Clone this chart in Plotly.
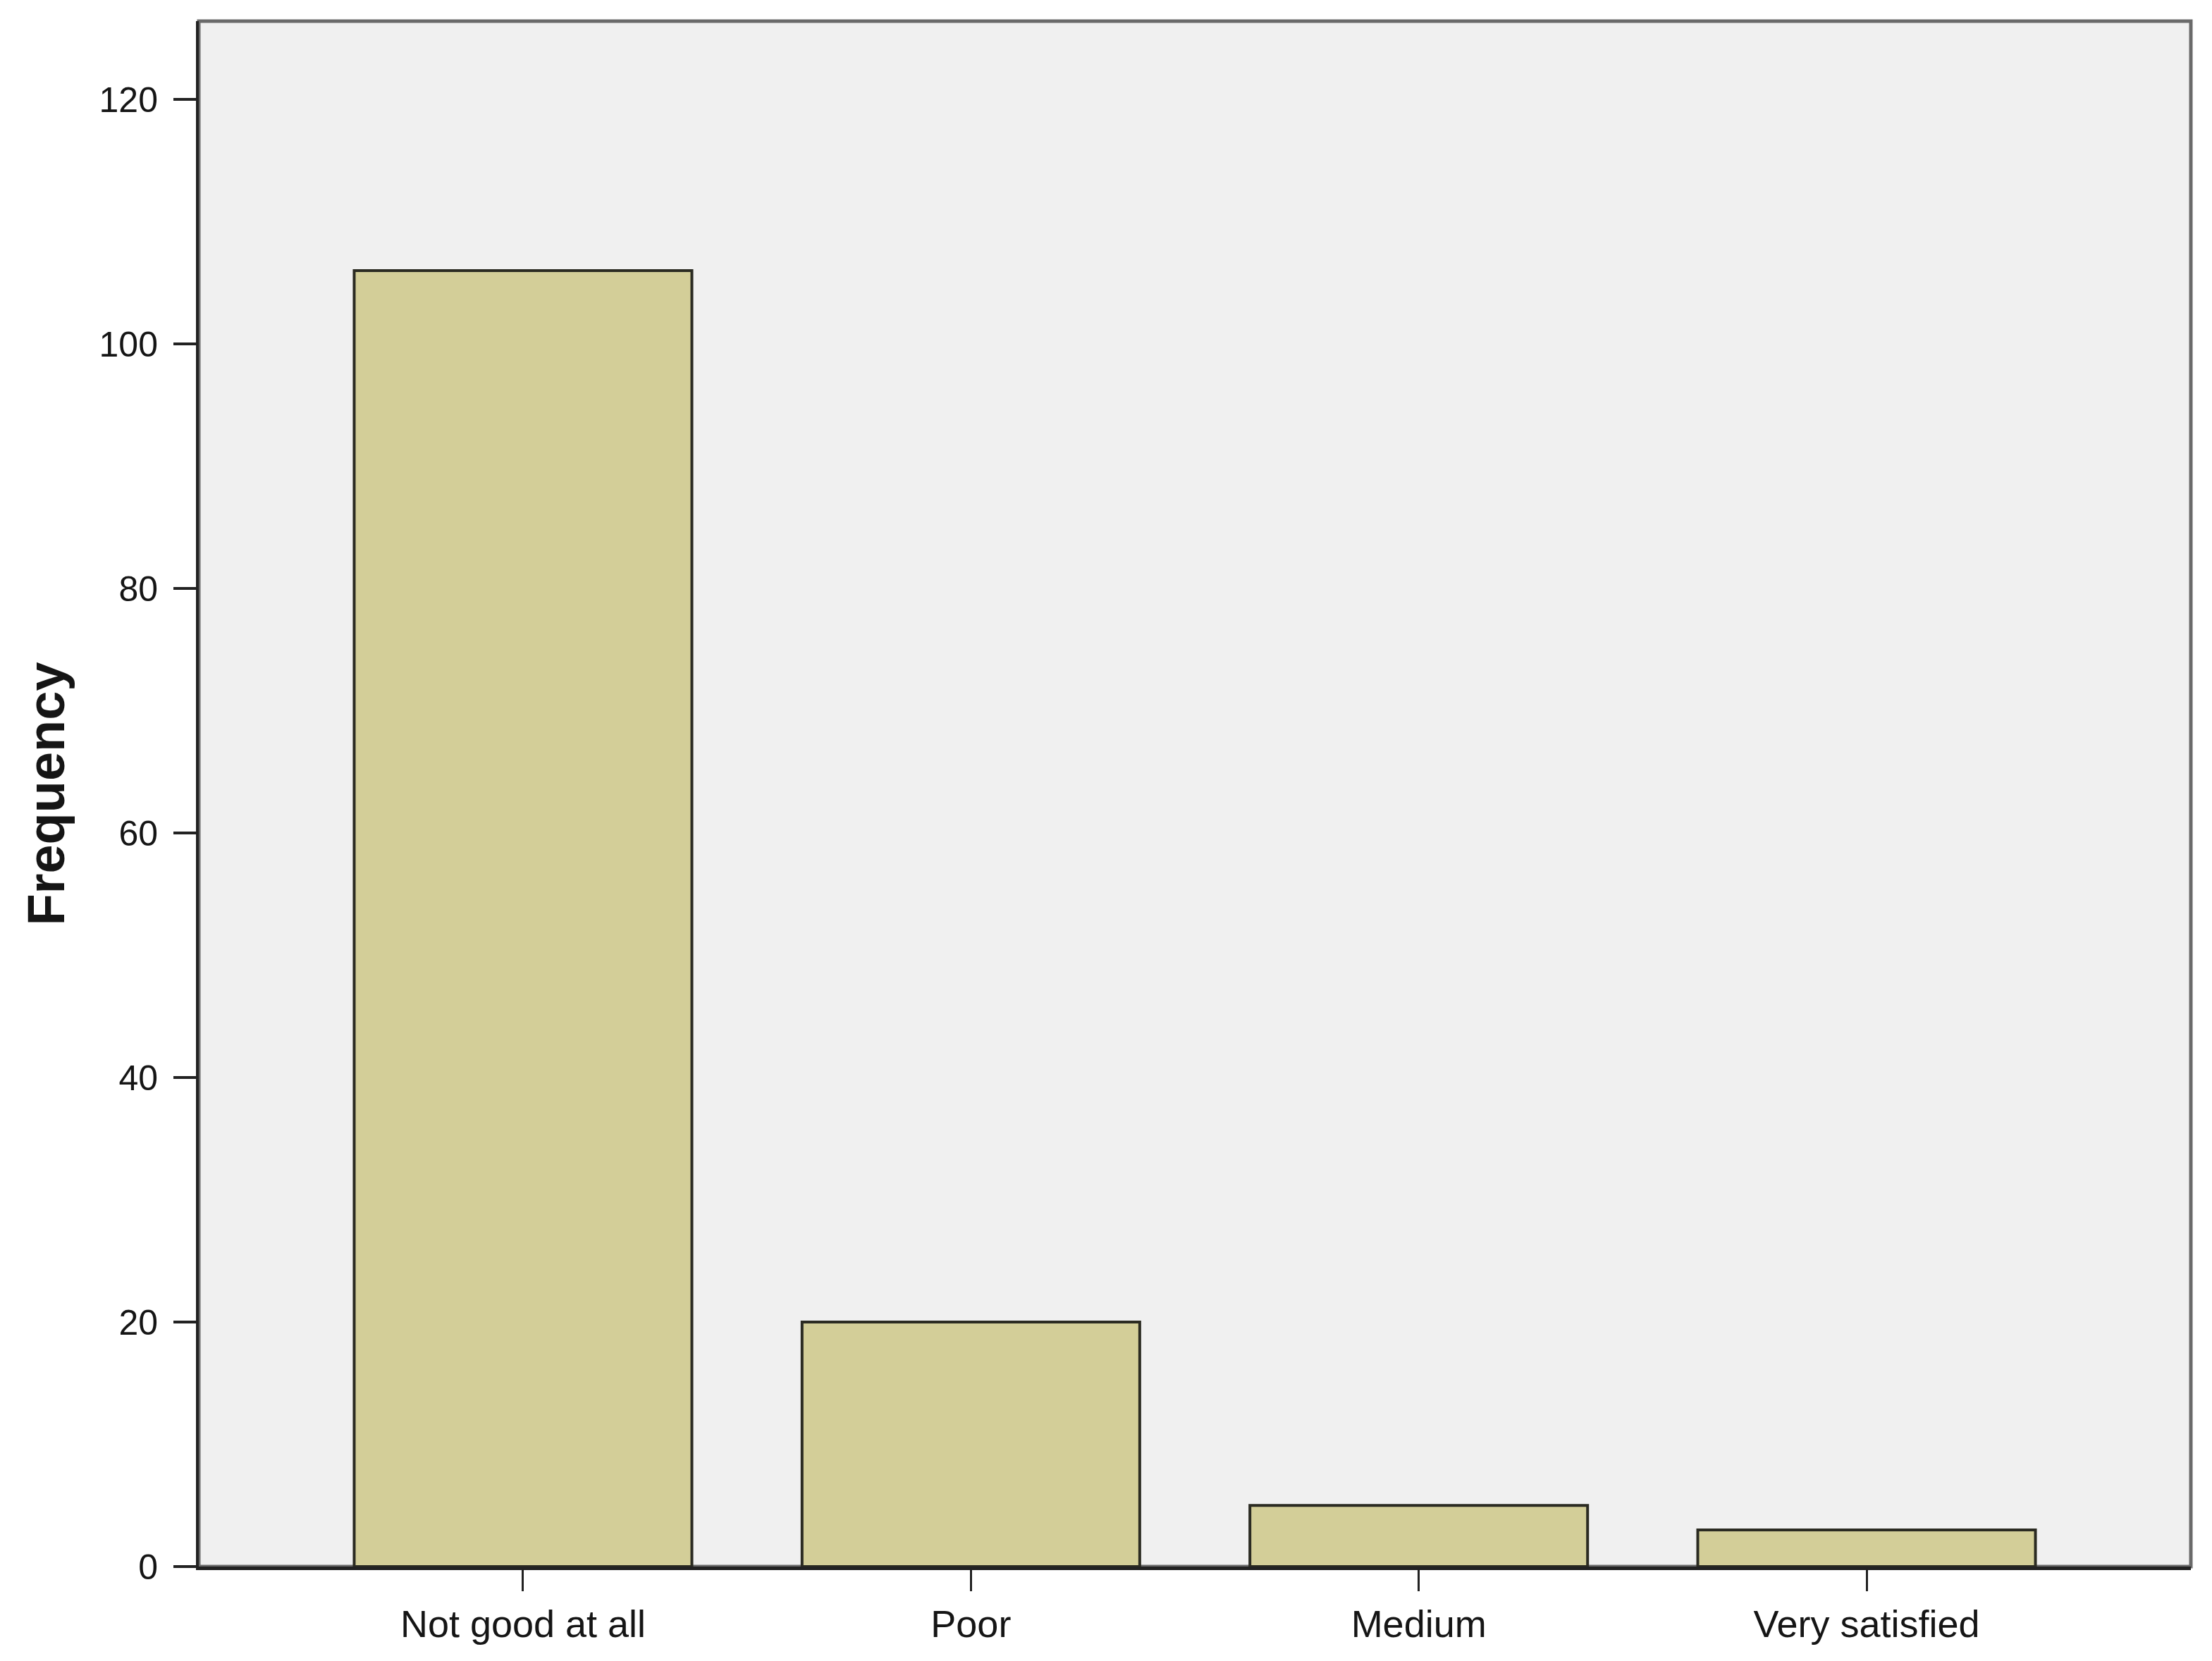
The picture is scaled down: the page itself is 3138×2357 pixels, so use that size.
import plotly.graph_objects as go

# Satisfaction categories and their frequencies
categories = ["Not good at all", "Poor", "Medium", "Very satisfied"]
frequency = [106, 20, 5, 3]

y_ticks = [0, 20, 40, 60, 80, 100, 120]

fig = go.Figure()

fig.add_trace(go.Bar(
    x=categories,
    y=frequency,
    width=0.754,
    marker=dict(color="#d3ce98", line=dict(color="#2b2b22", width=4)),
    showlegend=False,
))

# grey frame round the plot area (left/bottom get the black axis lines)
fig.add_shape(
    type="rect", xref="paper", yref="paper",
    x0=0, y0=0, x1=1, y1=1,
    line=dict(color="#6a6a6a", width=5),
    layer="below",
)

fig.update_layout(
    width=3138,
    height=2357,
    margin=dict(l=274, r=38, t=22, b=142),
    paper_bgcolor="white",
    plot_bgcolor="#f0f0f0",
    font=dict(family="Liberation Sans, Arial, sans-serif", color="#151515"),
    bargap=0.25,
)

fig.update_xaxes(
    range=[-0.724, 3.724],
    showgrid=False,
    showline=True,
    linecolor="#222222",
    linewidth=5,
    ticks="outside",
    ticklen=30,
    tickwidth=3,
    tickcolor="#222222",
    tickfont=dict(size=54),
    ticklabelstandoff=0,
)

fig.update_yaxes(
    range=[0, 126.4],
    tickvals=y_ticks,
    showgrid=False,
    zeroline=False,
    showline=True,
    linecolor="#222222",
    linewidth=4,
    ticks="outside",
    ticklen=32,
    tickwidth=4,
    tickcolor="#222222",
    tickfont=dict(size=50),
    ticklabelstandoff=12,
    title=dict(text="<b>Frequency</b>", font=dict(size=74), standoff=26),
)

fig.write_html("out.html")
